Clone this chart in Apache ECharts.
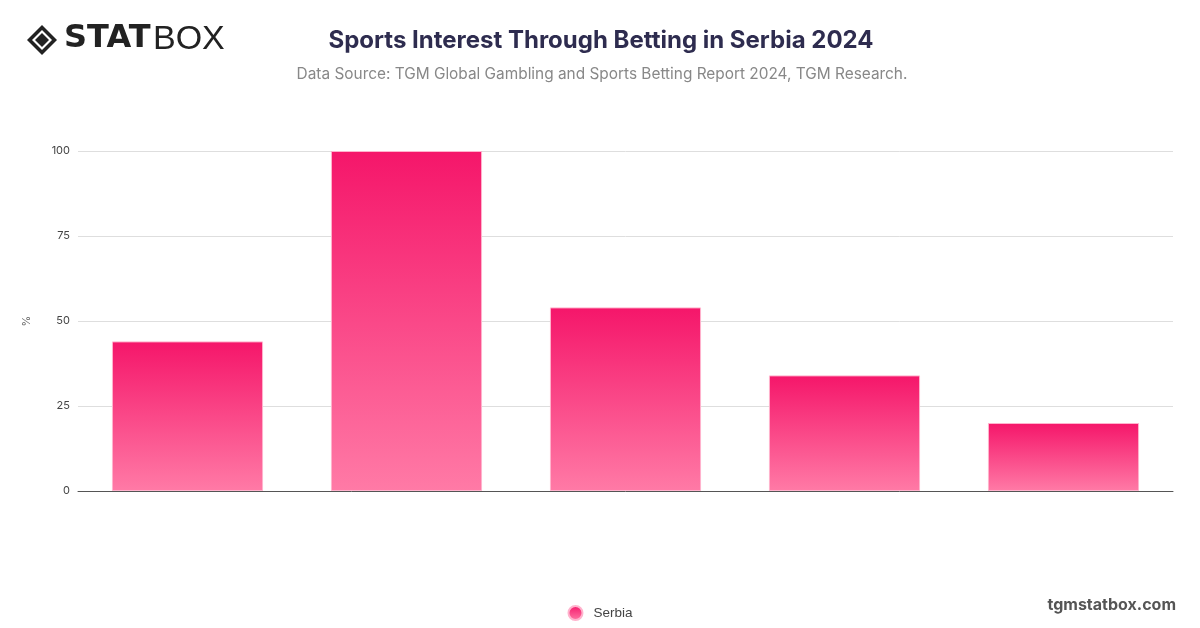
<!DOCTYPE html>
<html>
<head>
<meta charset="utf-8">
<script src="https://cdn.jsdelivr.net/npm/echarts@6/dist/echarts.min.js"></script>
<style>html,body{margin:0;padding:0;background:#fff;}#c{width:1200px;height:628px;}</style>
</head>
<body>
<div id="c"></div>
<script>
const categories = ['Sport 1', 'Sport 2', 'Sport 3', 'Sport 4', 'Sport 5'];
const serbiaValues = [44, 100, 54, 34, 20];
const yTicks = [0, 25, 50, 75, 100];

const chart = echarts.init(document.getElementById('c'));
const barGradient = new echarts.graphic.LinearGradient(0, 0, 0, 1, [
  {offset: 0, color: '#f5166a'},
  {offset: 1, color: '#ff7aa6'}
]);
chart.setOption({
  animation: false,
  backgroundColor: '#fff',
  title: [{
    text: 'Sports Interest Through Betting in Serbia 2024',
    left: 596, top: 24, textAlign: 'center',
    textStyle: {fontFamily: 'Inter', fontSize: 24, fontWeight: 'bold', color: '#2e2c4f'}
  }, {
    text: 'Data Source: TGM Global Gambling and Sports Betting Report 2024, TGM Research.',
    left: 597, top: 62, textAlign: 'center',
    textStyle: {fontFamily: 'Inter', fontSize: 15.4, fontWeight: 'normal', color: '#888'}
  }],
  grid: {left: 78, right: 27, top: 151, bottom: 137, containLabel: false},
  legend: {
    data: ['Serbia'], bottom: 2, left: 'center', icon: 'circle', itemWidth: 14, itemHeight: 14,
    textStyle: {fontFamily: 'Liberation Sans', fontSize: 13.5, color: '#444', padding: [0, 0, 0, 6]}
  },
  xAxis: {
    type: 'category', data: categories,
    axisLine: {lineStyle: {color: '#555', width: 1}},
    axisTick: {show: false}, axisLabel: {show: false}
  },
  yAxis: {
    type: 'value', min: 0, max: 100, interval: 25,
    name: '%', nameLocation: 'middle', nameGap: 46, nameRotate: 90,
    nameTextStyle: {fontFamily: 'Inter', fontSize: 11, color: '#666'},
    axisLabel: {fontFamily: 'Inter', fontSize: 11, color: '#444', margin: 8,
      formatter: v => yTicks.includes(v) ? String(v) : ''},
    axisLine: {show: false}, axisTick: {show: false},
    splitLine: {lineStyle: {color: '#dedede', width: 1}}
  },
  series: [{
    name: 'Serbia', type: 'bar', data: serbiaValues, barWidth: '69%',
    itemStyle: {color: barGradient, borderColor: '#ffb3cd', borderWidth: 1}
  }],
  graphic: [
    {type: 'group', left: 27, top: 25, children: [
      {type: 'polygon', shape: {points: [[15,0],[30,15],[15,30],[0,15]]}, style: {fill: '#222'}},
      {type: 'polygon', shape: {points: [[15,5],[25,15],[15,25],[5,15]]}, style: {fill: '#fff'}},
      {type: 'polygon', shape: {points: [[15,8],[22,15],[15,22],[8,15]]}, style: {fill: '#222'}}
    ]},
    {type: 'text', left: 64, top: 23, style: {text: 'STAT', fontFamily: 'DejaVu Sans', fontSize: 32, fontWeight: 900, fill: '#222'}},
    {type: 'text', left: 153, top: 23, style: {text: 'BOX', fontFamily: 'Liberation Sans', fontSize: 34, fontWeight: 'normal', fill: '#222'}},
    {type: 'text', right: 24, top: 597, style: {text: 'tgmstatbox.com', fontFamily: 'Inter', fontSize: 16, fontWeight: 'bold', fill: '#555'}}
  ]
});
</script>
</body>
</html>
